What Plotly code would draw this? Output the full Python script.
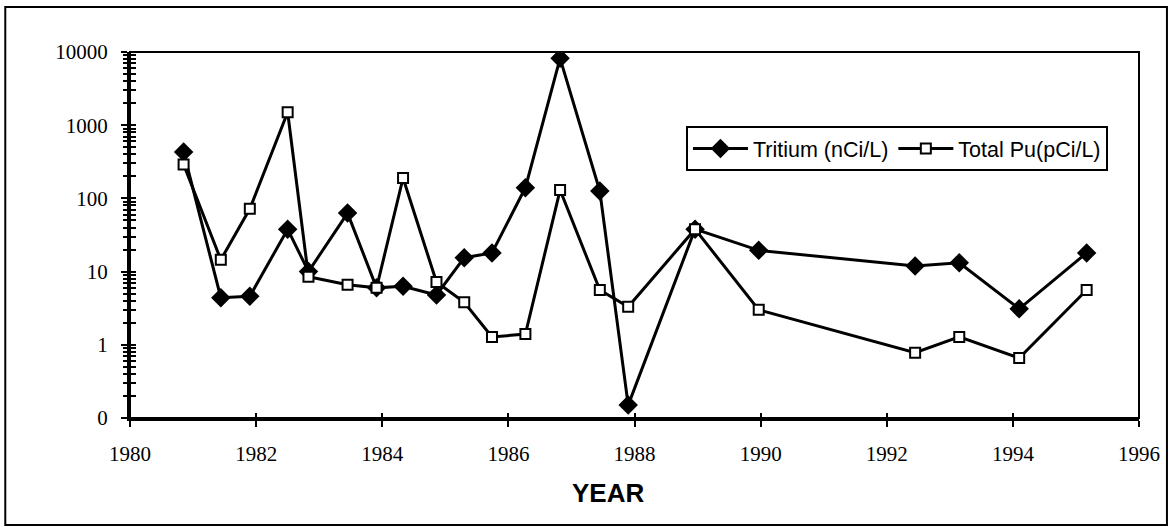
import plotly.graph_objects as go

# ---- data ----
years = [1980.85, 1981.44, 1981.90, 1982.50, 1982.83, 1983.45, 1983.91, 1984.33,
         1984.86, 1985.30, 1985.74, 1986.27, 1986.82, 1987.45, 1987.90, 1988.96,
         1989.97, 1992.45, 1993.15, 1994.10, 1995.17]
tritium = [430, 4.4, 4.6, 38, 10, 63, 6.0, 6.3, 4.8, 15.5, 18, 140, 8200, 126,
           0.15, 38, 19.5, 11.9, 13.2, 3.1, 18]
total_pu = [290, 14.5, 72, 1500, 8.5, 6.6, 6.0, 190, 7.2, 3.8, 1.28, 1.4, 130,
            5.6, 3.3, 38, 3.0, 0.78, 1.28, 0.66, 5.6]

x_ticks = [1980, 1982, 1984, 1986, 1988, 1990, 1992, 1994, 1996]
y_tickvals = [0.1, 1, 10, 100, 1000, 10000]
y_ticktext = ["0", "1", "10", "100", "1000", "10000"]
minor_vals = [d * m for d in (0.1, 1, 10, 100, 1000) for m in range(2, 10)]

serif = "Liberation Serif, Times New Roman, serif"
sans = "Liberation Sans, Arial, sans-serif"

fig = go.Figure()
fig.add_trace(go.Scatter(
    x=years, y=tritium, name="Tritium (nCi/L)", mode="lines+markers",
    line=dict(color="black", width=3),
    marker=dict(symbol="diamond", size=15, color="black"),
    xaxis="x", yaxis="y"))
fig.add_trace(go.Scatter(
    x=years, y=total_pu, name="Total Pu(pCi/L)", mode="lines+markers",
    line=dict(color="black", width=3),
    marker=dict(symbol="square", size=10, color="white",
                line=dict(color="black", width=2)),
    xaxis="x2", yaxis="y2"))

common_x = dict(range=[1980, 1996], tickmode="array", tickvals=x_ticks,
                showgrid=False, zeroline=False, tickwidth=2, tickcolor="black")
common_y = dict(type="log", range=[-1, 4], tickmode="array", tickvals=y_tickvals,
                showgrid=False, zeroline=False, tickwidth=2, tickcolor="black")

fig.update_layout(
    width=1172, height=527,
    paper_bgcolor="white", plot_bgcolor="white",
    margin=dict(l=130, r=31, t=52, b=109),
    xaxis=dict(**common_x, ticks="outside", ticklen=6, showline=True,
               linewidth=3, linecolor="black", ticktext=[str(v) for v in x_ticks],
               tickfont=dict(family=serif, size=21, color="black"),
               ticklabelstandoff=9),
    xaxis2=dict(**common_x, overlaying="x", anchor="y2", side="bottom",
                ticks="inside", ticklen=5, showticklabels=False, showline=False),
    yaxis=dict(**common_y, ticktext=y_ticktext, ticks="outside", ticklen=6,
               showline=True, linewidth=3, linecolor="black",
               tickfont=dict(family=serif, size=21, color="black"),
               ticklabelstandoff=9,
               minor=dict(tickmode="array", tickvals=minor_vals, ticks="outside",
                          ticklen=4, tickwidth=2, tickcolor="black", showgrid=False)),
    yaxis2=dict(**common_y, overlaying="y", anchor="x2", side="left",
                ticks="inside", ticklen=6, showticklabels=False, showline=False,
                minor=dict(tickmode="array", tickvals=minor_vals, ticks="inside",
                           ticklen=6, tickwidth=2, tickcolor="black", showgrid=False)),
    legend=dict(x=0.551, y=0.798, xanchor="left", yanchor="top",
                orientation="h", bordercolor="black", borderwidth=2,
                bgcolor="white", font=dict(family=sans, size=21.5, color="black"),
                itemwidth=55),
    showlegend=True,
    annotations=[dict(text="<b>YEAR</b>", xref="paper", yref="paper",
                      x=0.474, y=-0.205, xanchor="center", yanchor="middle",
                      showarrow=False,
                      font=dict(family=sans, size=26, color="black"))],
    shapes=[
        dict(type="rect", xref="paper", yref="paper", x0=0, x1=1, y0=0, y1=1,
             line=dict(color="black", width=2), layer="below"),
        dict(type="rect", xref="paper", yref="paper", x0=-0.1236, x1=1.0277,
             y0=-0.2923, y1=1.123, line=dict(color="black", width=2)),
    ],
)

fig.write_html("out.html",
               config={"displayModeBar": False},
               post_script="document.body.style.margin='0';"
                           "document.body.style.overflow='hidden';")
